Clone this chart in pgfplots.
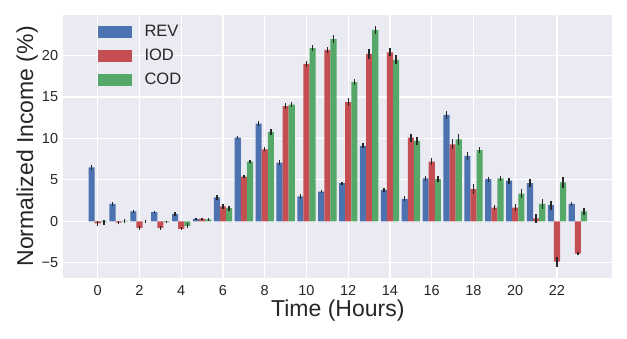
\documentclass[border=0pt]{standalone}
\usepackage{fontspec}
\setmainfont{Liberation Sans}
\usepackage{pgfplots}
\usepackage{pgfplotstable}
\pgfplotsset{compat=1.18}

\definecolor{bg}{HTML}{EAEAF2}
\definecolor{tx}{HTML}{262626}
\definecolor{rev}{HTML}{4C72B0}
\definecolor{iod}{HTML}{C44E52}
\definecolor{cod}{HTML}{55A868}

\pgfplotsset{
  legpatch/.style={legend image code/.code={\fill[##1] (0pt,-6pt) rectangle (34pt,6pt);}},
}

% hour, value and error half-width for each series
\pgfplotstableread{
h  rev   revE  iod    iodE  cod   codE
0  6.5   0.25  -0.25  0.3   -0.1  0.3
1  2.1   0.25  -0.15  0.2   0.05  0.2
2  1.2   0.15  -0.8   0.2   0.0   0.2
3  1.1   0.1   -0.8   0.2   -0.1  0.1
4  0.9   0.2   -0.9   0.2   -0.55 0.3
5  0.3   0.15  0.3    0.15  0.25  0.15
6  2.9   0.3   1.8    0.25  1.6   0.3
7  10.1  0.15  5.4    0.2   7.2   0.2
8  11.8  0.3   8.7    0.25  10.8  0.35
9  7.1   0.25  13.9   0.35  14.1  0.25
10 3.0   0.3   19.0   0.35  20.9  0.4
11 3.6   0.15  20.7   0.35  22.0  0.45
12 4.6   0.2   14.4   0.45  16.8  0.35
13 9.1   0.3   20.2   0.6   23.1  0.45
14 3.8   0.25  20.4   0.5   19.5  0.55
15 2.7   0.3   10.1   0.5   9.7   0.5
16 5.2   0.3   7.2    0.4   5.1   0.4
17 12.85 0.45  9.3    0.6   9.9   0.7
18 7.9   0.45  3.9    0.55  8.6   0.4
19 5.1   0.3   1.65   0.3   5.2   0.3
20 4.9   0.35  1.65   0.45  3.35  0.55
21 4.6   0.5   0.35   0.55  2.1   0.55
22 1.95  0.55  -4.85  0.6   4.7   0.65
23 2.1   0.2   -3.9   0.2   1.2   0.4
}\datatab

\begin{document}
\begin{tikzpicture}
\path[use as bounding box] (-63.3pt,-60.3pt) rectangle (563.7pt,277.7pt);
\begin{axis}[
  at={(0pt,0pt)}, anchor=south west,
  scale only axis,
  width=549pt, height=262.7pt,
  xmin=-1.65, xmax=24.65,
  ymin=-6.8, ymax=24.9,
  xtick={0,2,...,22},
  ytick={-5,0,5,10,15,20},
  yticklabels={−5,0,5,10,15,20},
  /pgf/number format/assume math mode=true,
  axis background/.style={fill=bg},
  axis line style={draw=none},
  major tick length=0pt,
  grid=major,
  major grid style={white, line width=1.1pt},
  tick label style={font=\fontsize{14.5}{17}\selectfont, text=tx},
  xticklabel style={anchor=base, yshift=-17.3pt},
  yticklabel style={anchor=east, inner sep=0pt, xshift=-5pt},
  xlabel={Time (Hours)},
  ylabel={Normalized Income (\%)},
  label style={font=\fontsize{23}{27}\selectfont, text=tx},
  xlabel style={at={(axis description cs:0.5,0)}, anchor=base, yshift=-39pt},
  ylabel style={at={(axis description cs:0,0.5)}, anchor=south, inner sep=0pt, yshift=25.3pt},
  legend style={
    draw=none, fill=none, at={(axis description cs:0.062,1)}, anchor=north west,
    yshift=-9pt, inner sep=0pt, text=tx,
    font=\fontsize{16.5}{19}\selectfont, row sep=8.5pt,
    nodes={inner sep=0pt, text height=12pt, text depth=3.5pt},
    /tikz/every odd column/.append style={column sep=13pt},
  },
  legend cell align=left,
  error bars/y dir=both,
  error bars/y explicit,
  error bars/error mark=none,
  error bars/error bar style={line width=1.4pt, color=tx},
]
\addplot[ybar, bar width=0.29, bar shift=0, fill=rev, draw=none, legpatch]
  table[x expr=\thisrow{h}-0.293, y=rev, y error=revE]{\datatab};
\addlegendentry{REV}
\addplot[ybar, bar width=0.29, bar shift=0, fill=iod, draw=none, legpatch]
  table[x=h, y=iod, y error=iodE]{\datatab};
\addlegendentry{IOD}
\addplot[ybar, bar width=0.29, bar shift=0, fill=cod, draw=none, legpatch]
  table[x expr=\thisrow{h}+0.293, y=cod, y error=codE]{\datatab};
\addlegendentry{COD}
\end{axis}
\end{tikzpicture}
\end{document}
